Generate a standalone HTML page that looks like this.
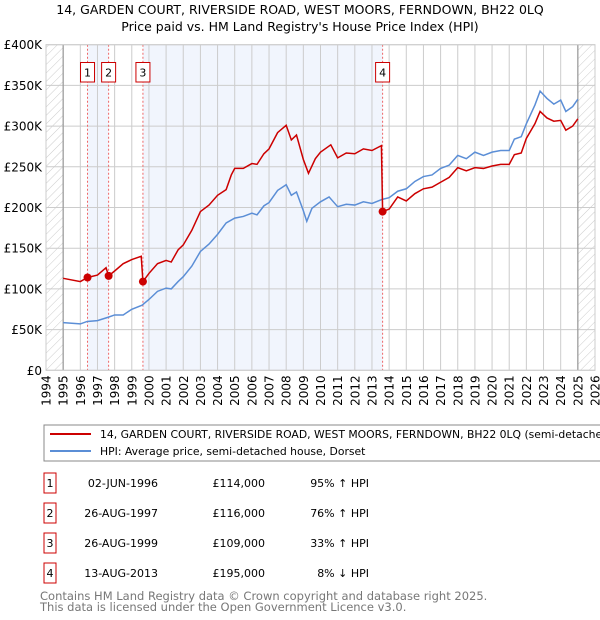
<!DOCTYPE html>
<html><head><meta charset="utf-8"><style>
body{margin:0;background:#fff;font-family:"DejaVu Sans","Liberation Sans",sans-serif}
svg{display:block}
</style></head><body>
<svg id="c" width="600" height="620" xmlns="http://www.w3.org/2000/svg" font-family="DejaVu Sans, Liberation Sans, sans-serif">
<defs><pattern id="hatch" width="6" height="6" patternUnits="userSpaceOnUse" patternTransform="rotate(45)"><line x1="0" y1="0" x2="0" y2="6" stroke="#ccc" stroke-width="1"/></pattern></defs>
<text x="300" y="14" text-anchor="middle" font-size="12.5">14, GARDEN COURT, RIVERSIDE ROAD, WEST MOORS, FERNDOWN, BH22 0LQ</text>
<text x="300" y="31" text-anchor="middle" font-size="12.5">Price paid vs. HM Land Registry's House Price Index (HPI)</text>
<g id="plot"></g>
<g>
<rect x="44" y="425" width="570" height="36" fill="#fff" stroke="#888"/>
<line x1="50" y1="434" x2="91" y2="434" stroke="#cc0000" stroke-width="2"/>
<text x="100" y="438" font-size="10.8">14, GARDEN COURT, RIVERSIDE ROAD, WEST MOORS, FERNDOWN, BH22 0LQ (semi-detached</text>
<line x1="50" y1="451" x2="91" y2="451" stroke="#5b8ed6" stroke-width="2"/>
<text x="100" y="455" font-size="10.8">HPI: Average price, semi-detached house, Dorset</text>
</g>
<g id="table" font-size="11"></g>
<text x="40" y="600" font-size="11.5" fill="#777">Contains HM Land Registry data © Crown copyright and database right 2025.</text>
<text x="40" y="611" font-size="11.5" fill="#777">This data is licensed under the Open Government Licence v3.0.</text>
</svg>
<script>
const hpiYears=[1995,1996,1996.4,1997,1997.6,1998,1998.5,1999,1999.6,2000,2000.5,2001,2001.3,2001.7,2002,2002.5,2003,2003.5,2004,2004.5,2005,2005.5,2006,2006.3,2006.7,2007,2007.5,2008,2008.3,2008.6,2009,2009.2,2009.5,2010,2010.5,2011,2011.5,2012,2012.5,2013,2013.6,2014,2014.5,2015,2015.5,2016,2016.5,2017,2017.5,2018,2018.5,2019,2019.5,2020,2020.5,2021,2021.3,2021.7,2022,2022.5,2022.8,2023.2,2023.6,2024,2024.3,2024.7,2025];
const hpiValues=[58.5,57,60,61,65,68,68,75,80,87,97,101,100,109,115,128,146,155,167,181,187,189,193,191,202,206,221,228,215,219,196,183,199,207,213,201,204,203,207,205,210,212,220,223,232,238,240,248,252,264,260,268,264,268,270,270,284,287,303,326,343,334,327,332,318,324,333];
const priceYears=[1995,1996,1996.42,1997,1997.5,1997.65,1998,1998.5,1999,1999.55,1999.65,2000,2000.5,2001,2001.3,2001.7,2002,2002.5,2003,2003.5,2004,2004.5,2004.8,2005,2005.5,2006,2006.3,2006.7,2007,2007.5,2008,2008.3,2008.6,2009,2009.3,2009.7,2010,2010.6,2011,2011.5,2012,2012.5,2013,2013.55,2013.62,2014,2014.5,2015,2015.5,2016,2016.5,2017,2017.5,2018,2018.5,2019,2019.5,2020,2020.5,2021,2021.3,2021.7,2022,2022.5,2022.8,2023.2,2023.6,2024,2024.3,2024.7,2025];
const priceValues=[113,109,114,117,126,116,122,131,136,140,109,119,131,135,133,148,154,172,195,203,215,222,240,248,248,254,253,266,272,292,301,283,289,259,242,260,268,277,261,267,266,272,270,276,195,198,213,208,217,223,225,231,237,249,245,249,248,251,253,253,265,267,285,303,318,310,306,307,295,300,309];
const saleLabels=["1","2","3","4"];
const saleYears=[1996.42,1997.65,1999.65,2013.62];
const saleValues=[114,116,109,195];
const saleDates=["02-JUN-1996","26-AUG-1997","26-AUG-1999","13-AUG-2013"];
const salePrices=["£114,000","£116,000","£109,000","£195,000"];
const saleHpi=["95% \u2191 HPI","76% \u2191 HPI","33% \u2191 HPI","8% \u2193 HPI"];
const yTicks=[0,50,100,150,200,250,300,350,400];
const yTickLabels=["£0","£50K","£100K","£150K","£200K","£250K","£300K","£350K","£400K"];
const xTicks=[1994,1995,1996,1997,1998,1999,2000,2001,2002,2003,2004,2005,2006,2007,2008,2009,2010,2011,2012,2013,2014,2015,2016,2017,2018,2019,2020,2021,2022,2023,2024,2025,2026];

const L=46,R=595,T=44.7,B=370.3;
const xs=y=>L+(y-1994)/(2026-1994)*(R-L);
const ys=v=>B-v/400*(B-T);
const NS="http://www.w3.org/2000/svg";
function mk(tag,attrs,parent,text){const e=document.createElementNS(NS,tag);for(const k in attrs)e.setAttribute(k,attrs[k]);if(text!==undefined)e.textContent=text;parent.appendChild(e);return e;}
const g=document.getElementById('plot');
for(let i=0;i<saleYears.length;i+=2){
  const r=mk('rect',{x:xs(saleYears[i]),y:T,width:xs(saleYears[i+1])-xs(saleYears[i]),height:B-T,fill:'#eef3fd',opacity:0.8},g);
  
  
}
const h1=mk('rect',{x:L,y:T,width:xs(1995)-L,height:B-T,fill:'url(#hatch)'},g);


const h2=mk('rect',{x:xs(2025),y:T,width:R-xs(2025),height:B-T,fill:'url(#hatch)'},g);


xTicks.forEach(t=>{
  const l=mk('line',{x1:xs(t),x2:xs(t),y1:T,y2:B,stroke:'#ccc','stroke-width':1},g);
  
  
  const tx=mk('text',{x:0,y:0,transform:`translate(${xs(t)+4.5},${B+5}) rotate(-90)`,'text-anchor':'end','font-size':12},g,String(t));
  
  
});
yTicks.forEach((t,i)=>{
  const l=mk('line',{x1:L,x2:R,y1:ys(t),y2:ys(t),stroke:'#ccc','stroke-width':1},g);
  
  
  const tx=mk('text',{x:L-4,y:ys(t)+4.5,'text-anchor':'end','font-size':12},g,yTickLabels[i]);
  
  
});
[1995,2025].forEach(t=>{
  const l=mk('line',{x1:xs(t),x2:xs(t),y1:T,y2:B,stroke:'#999','stroke-width':1.2},g);
  
  
});
saleYears.forEach(t=>{
  const l=mk('line',{x1:xs(t),x2:xs(t),y1:T,y2:B,stroke:'#e66','stroke-width':1,'stroke-dasharray':'2,2'},g);
  
  
});
const hp=mk('polyline',{points:hpiYears.map((y,i)=>xs(y)+','+ys(hpiValues[i])).join(' '),fill:'none',stroke:'#5b8ed6','stroke-width':1.5},g);


const pp=mk('polyline',{points:priceYears.map((y,i)=>xs(y)+','+ys(priceValues[i])).join(' '),fill:'none',stroke:'#cc0000','stroke-width':1.5},g);


saleYears.forEach((t,i)=>{
  const c=mk('circle',{cx:xs(t),cy:ys(saleValues[i]),r:4,fill:'#cc0000'},g);
  
  
  const bx=mk('rect',{x:xs(t)-7,y:62.5,width:14,height:19.5,fill:'#fff',stroke:'#cc0000'},g);
  
  
  const tx=mk('text',{x:xs(t),y:76.5,'text-anchor':'middle','font-size':11},g,saleLabels[i]);
  
  
});
const bd=mk('rect',{x:L,y:T,width:R-L,height:B-T,fill:'none',stroke:'#ccc'},g);


const tb=document.getElementById('table');
saleLabels.forEach((s,i)=>{
  const cy=483+i*30;
  const r=mk('rect',{x:44,y:cy-10,width:12,height:20,fill:'#fff',stroke:'#cc0000'},tb);
  
  
  const n=mk('text',{x:50,y:cy+4,'text-anchor':'middle'},tb,s);
  
  
  const d=mk('text',{x:158,y:cy+4,'text-anchor':'end'},tb,saleDates[i]);
  
  
  const p=mk('text',{x:265,y:cy+4,'text-anchor':'end'},tb,salePrices[i]);
  
  
  const hh=mk('text',{x:369,y:cy+4,'text-anchor':'end'},tb,saleHpi[i]);
  
  
});
</script>
</body></html>
